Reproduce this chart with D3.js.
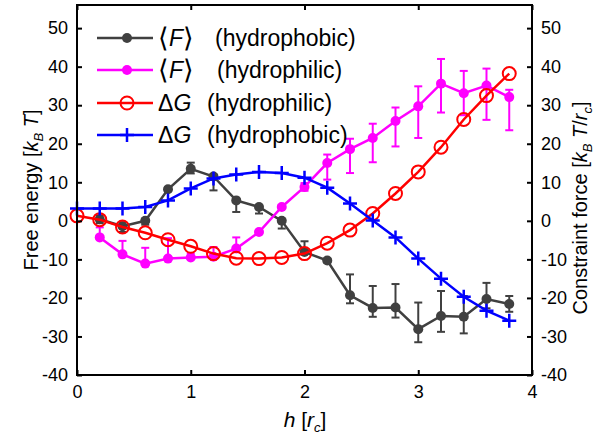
<!DOCTYPE html>
<html>
<head>
<meta charset="utf-8">
<script src="https://cdn.jsdelivr.net/npm/d3@7"></script>
<style>
  body { margin: 0; background: #fff; }
  svg { font-family: "Liberation Sans", Arial, sans-serif; }
</style>
</head>
<body>
<script>
// positions along h, in units of r_c
var hAll = [0, 0.2, 0.4, 0.6, 0.8, 1.0, 1.2, 1.4, 1.6, 1.8, 2.0, 2.2, 2.4, 2.6, 2.8, 3.0, 3.2, 3.4, 3.6, 3.8]
var hForce = hAll.slice(1)

// <F> hydrophobic (grey) with upper / lower error
var fPhobic = [0.4, -1.4, 0, 8.2, 13.5, 11.5, 5.3, 3.6, 0, -8.1, -10.3, -19.3, -22.6, -22.5, -28.1, -24.7, -24.9, -20.3, -21.6]
var fPhobicUp = [1, 1, 0.5, 0.5, 1.6, 0.5, 0, 0, 0, 2.8, 0.5, 5.4, 5.7, 6.1, 6.9, 6.5, 5.4, 4.2, 2.1]
var fPhobicDown = [1, 1.5, 1, 0.5, 1.2, 3.6, 3, 1.7, 2, 0, 0.5, 2.1, 2.3, 2.6, 3.4, 4.1, 4.3, 2.4, 2.0]

// <F> hydrophilic (magenta)
var fPhilic = [-4.3, -8.7, -11.1, -9.8, -9.5, -9.3, -7.2, -2.9, 3.6, 8.8, 15, 18.6, 21.5, 25.9, 29.7, 35.6, 33.1, 35.1, 32.1]
var fPhilicUp = [2.6, 3.5, 4.1, 5.3, 1, 2.5, 2.9, 0.5, 0.5, 1, 2.2, 2.7, 3.7, 3.5, 5.2, 6.4, 5.8, 4.4, 1.9]
var fPhilicDown = [0, 0, 0, 0, 0, 0, 0, 0, 0, 1, 4.3, 6.2, 6.3, 6.6, 8.2, 7.5, 5.7, 8.9, 8.6]

// dG hydrophilic (red circles) and hydrophobic (blue plus)
var gPhilic = [1.3, 0.3, -1.6, -3.1, -4.9, -6.6, -8.5, -9.7, -9.8, -9.5, -8.5, -5.8, -2.4, 1.9, 7.1, 12.7, 19.1, 26.3, 32.5, 38.2]
var gPhobic = [3.2, 3.2, 3.2, 3.6, 5.3, 8.4, 11, 12, 12.7, 12.4, 11.2, 8.6, 4.5, 0.1, -4.3, -9.8, -15, -19.7, -23.3, -25.9]

var xTicks = [0, 1, 2, 3, 4]
var yTicks = [-40, -30, -20, -10, 0, 10, 20, 30, 40, 50]

var width = 597
var height = 439
var mLeft = 77, mRight = 532, mTop = 5, mBottom = 375

var grey = "#404040"
var magenta = "#ff00ff"
var red = "#ff0000"
var blue = "#0000ff"

var svg = d3.select("body").append("svg")
    .attr("width", width)
    .attr("height", height)

var x = d3.scaleLinear().domain([0, 4]).range([mLeft, mRight])
var y = d3.scaleLinear().domain([-40, 56]).range([mBottom, mTop])

var line = d3.line()
    .x(function (d) { return x(d[0]) })
    .y(function (d) { return y(d[1]) })

function zip(xs, ys) {
    return xs.map(function (v, i) { return [v, ys[i]] })
}

// error bars
function errorBars(xs, ys, up, down, color) {
    var g = svg.append("g").attr("stroke", color).attr("stroke-width", 2)
    xs.forEach(function (h, i) {
        var yt = y(ys[i] + up[i]), yb = y(ys[i] - down[i])
        g.append("line").attr("x1", x(h)).attr("x2", x(h)).attr("y1", yt).attr("y2", yb)
        if (up[i] > 0.3) g.append("line").attr("x1", x(h) - 4).attr("x2", x(h) + 4).attr("y1", yt).attr("y2", yt)
        if (down[i] > 0.3) g.append("line").attr("x1", x(h) - 4).attr("x2", x(h) + 4).attr("y1", yb).attr("y2", yb)
    })
}

// grey series
errorBars(hForce, fPhobic, fPhobicUp, fPhobicDown, grey)
svg.append("path").datum(zip(hForce, fPhobic))
    .attr("d", line).attr("fill", "none").attr("stroke", grey).attr("stroke-width", 2.5)
svg.append("g").selectAll("circle").data(zip(hForce, fPhobic)).enter().append("circle")
    .attr("cx", function (d) { return x(d[0]) }).attr("cy", function (d) { return y(d[1]) })
    .attr("r", 5).attr("fill", grey)

// magenta series
errorBars(hForce, fPhilic, fPhilicUp, fPhilicDown, magenta)
svg.append("path").datum(zip(hForce, fPhilic))
    .attr("d", line).attr("fill", "none").attr("stroke", magenta).attr("stroke-width", 2.5)
svg.append("g").selectAll("circle").data(zip(hForce, fPhilic)).enter().append("circle")
    .attr("cx", function (d) { return x(d[0]) }).attr("cy", function (d) { return y(d[1]) })
    .attr("r", 5).attr("fill", magenta)

// red series
svg.append("path").datum(zip(hAll, gPhilic))
    .attr("d", line).attr("fill", "none").attr("stroke", red).attr("stroke-width", 2.5)
svg.append("g").selectAll("circle").data(zip(hAll, gPhilic)).enter().append("circle")
    .attr("cx", function (d) { return x(d[0]) }).attr("cy", function (d) { return y(d[1]) })
    .attr("r", 6.5).attr("fill", "none").attr("stroke", red).attr("stroke-width", 2)

// blue series
svg.append("path").datum(zip(hAll, gPhobic))
    .attr("d", line).attr("fill", "none").attr("stroke", blue).attr("stroke-width", 2.5)
svg.append("g").selectAll("path").data(zip(hAll, gPhobic)).enter().append("path")
    .attr("d", function (d) {
        var cx = x(d[0]), cy = y(d[1])
        return "M" + (cx - 7) + "," + cy + "H" + (cx + 7) + "M" + cx + "," + (cy - 7) + "V" + (cy + 7)
    })
    .attr("stroke", blue).attr("stroke-width", 2.5)

// axes (ticks inside, box all round)
var fontTick = 18
var fmt = function (d) { return String(d) }   // plain hyphen minus like the original
svg.append("g").attr("transform", "translate(0," + mBottom + ")")
    .call(d3.axisBottom(x).tickValues(xTicks).tickSize(-5).tickPadding(10).tickFormat(fmt))
svg.append("g").attr("transform", "translate(0," + mTop + ")")
    .call(d3.axisTop(x).tickValues(xTicks).tickSize(-5).tickFormat(""))
svg.append("g").attr("transform", "translate(" + mLeft + ",0)")
    .call(d3.axisLeft(y).tickValues(yTicks).tickSize(-5).tickPadding(9).tickFormat(fmt))
svg.append("g").attr("transform", "translate(" + mRight + ",0)")
    .call(d3.axisRight(y).tickValues(yTicks).tickSize(-5).tickPadding(9).tickFormat(fmt))

svg.selectAll(".domain").attr("stroke", "none")
svg.selectAll(".tick line").attr("stroke", "#000").attr("stroke-width", 2)
svg.selectAll(".tick text").attr("font-size", fontTick).attr("fill", "#000")
    .attr("font-family", "Liberation Sans, Arial, sans-serif")

svg.append("rect").attr("x", mLeft).attr("y", mTop)
    .attr("width", mRight - mLeft).attr("height", mBottom - mTop)
    .attr("fill", "none").attr("stroke", "#000").attr("stroke-width", 2)

// axis titles
var yl = svg.append("text").attr("transform", "translate(38,190) rotate(-90)")
    .attr("text-anchor", "middle").attr("font-size", 20)
yl.append("tspan").text("Free energy [")
yl.append("tspan").attr("font-style", "italic").text("k")
yl.append("tspan").attr("font-style", "italic").attr("font-size", 13).attr("dy", 5).text("B")
yl.append("tspan").attr("font-style", "italic").attr("dy", -5).text(" T")
yl.append("tspan").text("]")

var yr = svg.append("text").attr("transform", "translate(587,208) rotate(-90)")
    .attr("text-anchor", "middle").attr("font-size", 20)
yr.append("tspan").text("Constraint force  [")
yr.append("tspan").attr("font-style", "italic").text("k")
yr.append("tspan").attr("font-style", "italic").attr("font-size", 13).attr("dy", 5).text("B")
yr.append("tspan").attr("font-style", "italic").attr("dy", -5).text(" T")
yr.append("tspan").text("/")
yr.append("tspan").attr("font-style", "italic").text("r")
yr.append("tspan").attr("font-style", "italic").attr("font-size", 13).attr("dy", 5).text("c")
yr.append("tspan").attr("dy", -5).text("]")

var xl = svg.append("text").attr("x", 305).attr("y", 427)
    .attr("text-anchor", "middle").attr("font-size", 21)
xl.append("tspan").attr("font-style", "italic").text("h")
xl.append("tspan").text(" [")
xl.append("tspan").attr("font-style", "italic").text("r")
xl.append("tspan").attr("font-style", "italic").attr("font-size", 13).attr("dy", 5).text("c")
xl.append("tspan").attr("dy", -5).text("]")

// legend
var legend = [
    { sym: "F", label: "(hydrophobic)", color: grey, marker: "dot", gap: 57 },
    { sym: "F", label: "(hydrophilic)", color: magenta, marker: "dot", gap: 59 },
    { sym: "G", label: "(hydrophilic)", color: red, marker: "ring", gap: 49 },
    { sym: "G", label: "(hydrophobic)", color: blue, marker: "plus", gap: 49 }
]
var rowY = [38, 70, 103, 135]
legend.forEach(function (d, i) {
    var g = svg.append("g").attr("transform", "translate(0," + rowY[i] + ")")
    g.append("line").attr("x1", 97).attr("x2", 153).attr("y1", 0).attr("y2", 0)
        .attr("stroke", d.color).attr("stroke-width", 2.5)
    if (d.marker === "dot") g.append("circle").attr("cx", 127).attr("r", 5).attr("fill", d.color)
    if (d.marker === "ring") g.append("circle").attr("cx", 127).attr("r", 6.5)
        .attr("fill", "none").attr("stroke", d.color).attr("stroke-width", 2)
    if (d.marker === "plus") g.append("path").attr("d", "M120,0H134M127,-7V7")
        .attr("stroke", d.color).attr("stroke-width", 2.5)
    var t = g.append("text").attr("x", 158).attr("y", 8).attr("font-size", 23)
    if (d.sym === "F") {
        t.append("tspan").attr("font-size", 27).attr("dy", 1).text("\u27E8")
        t.append("tspan").attr("font-style", "italic").attr("dy", -1).text("F")
        t.append("tspan").attr("font-size", 27).attr("dy", 1).text("\u27E9")
    } else {
        t.append("tspan").text("\u0394")
        t.append("tspan").attr("font-style", "italic").text("G")
    }
    g.append("text").attr("x", 158 + d.gap).attr("y", 8).attr("font-size", 23).text(d.label)
})
</script>
</body>
</html>
